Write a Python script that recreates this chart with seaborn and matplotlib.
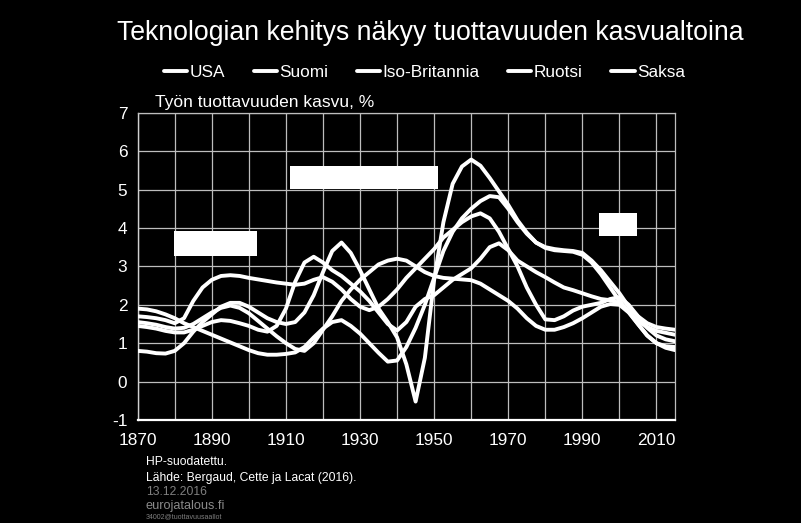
import numpy as np
import pandas as pd
import matplotlib
matplotlib.use("Agg")
import matplotlib.pyplot as plt
import seaborn as sns
from matplotlib.patches import Rectangle
from matplotlib.lines import Line2D

# ---------------- data ----------------
years = [1870, 1872.5, 1875, 1877.5, 1880, 1882.5, 1885, 1887.5, 1890, 1892.5,
         1895, 1897.5, 1900, 1902.5, 1905, 1907.5, 1910, 1912.5, 1915, 1917.5,
         1920, 1922.5, 1925, 1927.5, 1930, 1932.5, 1935, 1937.5, 1940, 1942.5,
         1945, 1947.5, 1950, 1952.5, 1955, 1957.5, 1960, 1962.5, 1965, 1967.5,
         1970, 1972.5, 1975, 1977.5, 1980, 1982.5, 1985, 1987.5, 1990, 1992.5,
         1995, 1997.5, 2000, 2002.5, 2005, 2007.5, 2010, 2012.5, 2015]

usa = [1.55, 1.52, 1.48, 1.42, 1.38, 1.40, 1.50, 1.65, 1.80, 1.92,
       1.98, 1.92, 1.78, 1.58, 1.38, 1.18, 1.00, 0.85, 0.80, 1.00,
       1.35, 1.70, 2.10, 2.40, 2.65, 2.85, 3.05, 3.15, 3.20, 3.15,
       3.00, 2.85, 2.75, 2.70, 2.68, 2.66, 2.64, 2.55, 2.40, 2.25,
       2.10, 1.90, 1.65, 1.45, 1.35, 1.35, 1.42, 1.52, 1.65, 1.80,
       1.95, 2.02, 2.00, 1.80, 1.50, 1.20, 1.00, 0.88, 0.82]

suomi = [1.90, 1.88, 1.83, 1.75, 1.65, 1.52, 1.42, 1.32, 1.22, 1.12,
         1.02, 0.92, 0.82, 0.74, 0.70, 0.70, 0.72, 0.76, 0.90, 1.15,
         1.38, 1.55, 1.60, 1.45, 1.25, 1.00, 0.75, 0.52, 0.55, 0.90,
         1.40, 2.00, 2.70, 3.40, 3.90, 4.25, 4.50, 4.70, 4.83, 4.80,
         4.50, 4.15, 3.85, 3.62, 3.50, 3.45, 3.42, 3.40, 3.35, 3.15,
         2.90, 2.60, 2.30, 1.95, 1.70, 1.52, 1.42, 1.38, 1.35]

iso_britannia = [1.45, 1.42, 1.38, 1.32, 1.28, 1.28, 1.35, 1.45, 1.55, 1.60,
                 1.58, 1.52, 1.45, 1.35, 1.30, 1.45, 1.90, 2.60, 3.10, 3.25,
                 3.10, 2.90, 2.75, 2.55, 2.35, 2.10, 1.80, 1.50, 1.33, 1.55,
                 1.95, 2.15, 2.25, 2.45, 2.65, 2.80, 2.95, 3.20, 3.50, 3.60,
                 3.42, 3.15, 3.00, 2.85, 2.72, 2.58, 2.45, 2.38, 2.30, 2.22,
                 2.15, 2.12, 2.05, 1.82, 1.50, 1.20, 1.00, 0.92, 0.90]

ruotsi = [1.70, 1.68, 1.65, 1.60, 1.52, 1.65, 2.10, 2.45, 2.65, 2.75,
          2.77, 2.75, 2.70, 2.66, 2.62, 2.58, 2.55, 2.52, 2.55, 2.65,
          2.72, 2.60, 2.40, 2.15, 1.95, 1.86, 1.95, 2.15, 2.40, 2.70,
          2.95, 3.20, 3.45, 3.75, 3.95, 4.15, 4.30, 4.38, 4.25, 3.90,
          3.45, 3.00, 2.45, 2.00, 1.62, 1.60, 1.70, 1.85, 1.95, 2.00,
          2.05, 2.15, 2.20, 2.00, 1.70, 1.40, 1.20, 1.10, 1.05]

saksa = [0.80, 0.78, 0.74, 0.73, 0.80, 1.00, 1.30, 1.55, 1.75, 1.95,
         2.05, 2.05, 1.95, 1.80, 1.65, 1.55, 1.50, 1.55, 1.80, 2.25,
         2.85, 3.40, 3.62, 3.35, 2.90, 2.40, 1.90, 1.55, 1.15, 0.45,
         -0.52, 0.62, 2.65, 4.15, 5.15, 5.60, 5.78, 5.62, 5.30, 4.95,
         4.60, 4.20, 3.88, 3.62, 3.48, 3.42, 3.40, 3.38, 3.30, 3.10,
         2.80, 2.45, 2.10, 1.82, 1.58, 1.42, 1.32, 1.27, 1.22]

countries = ["USA", "Suomi", "Iso-Britannia", "Ruotsi", "Saksa"]
series = [usa, suomi, iso_britannia, ruotsi, saksa]

# white boxes (start year, end year, low, high)
box_start = [1879.8, 1911.0, 1994.6]
box_end = [1902.2, 1951.1, 2004.7]
box_low = [3.28, 5.01, 3.79]
box_high = [3.93, 5.62, 4.40]

x_ticks = [1870, 1880, 1890, 1900, 1910, 1920, 1930, 1940, 1950, 1960,
           1970, 1980, 1990, 2000, 2010]
x_labels = ["1870", "", "1890", "", "1910", "", "1930", "", "1950", "",
            "1970", "", "1990", "", "2010"]
y_ticks = [-1, 0, 1, 2, 3, 4, 5, 6, 7]

title = "Teknologian kehitys näkyy tuottavuuden kasvualtoina"
y_title = "Työn tuottavuuden kasvu, %"
notes = ["HP-suodatettu.", "Lähde: Bergaud, Cette ja Lacat (2016)."]
date_note = "13.12.2016"
site_note = "eurojatalous.fi"
code_note = "34002@tuottavuusaallot"

# ---------------- figure ----------------
sns.set_theme(style="dark")
plt.rcParams["font.family"] = ["Liberation Sans", "DejaVu Sans"]

df = pd.DataFrame({
    "year": np.tile(years, len(countries)),
    "value": np.concatenate(series),
    "country": np.repeat(countries, len(years)),
})

fig = plt.figure(figsize=(8.01, 5.23), dpi=100, facecolor="black")
ax = fig.add_axes([0.1719, 0.1969, 0.6708, 0.5876])
ax.set_facecolor("black")

sns.lineplot(data=df, x="year", y="value", hue="country", hue_order=countries,
             palette=["white"] * len(countries), linewidth=2.8, legend=False,
             sort=False, estimator=None, ax=ax)
for ln in ax.lines:
    ln.set_solid_joinstyle("round")
    ln.set_solid_capstyle("round")
    ln.set_zorder(4)

for x0, x1, y0, y1 in zip(box_start, box_end, box_low, box_high):
    ax.add_patch(Rectangle((x0, y0), x1 - x0, y1 - y0, facecolor="white",
                           edgecolor="none", zorder=5))

ax.set_xlim(1870, 2015)
ax.set_ylim(-1, 7)
ax.set_xticks(x_ticks)
ax.set_xticklabels(x_labels)
ax.set_yticks(y_ticks)
ax.set_yticklabels([str(v) for v in y_ticks])
ax.set_xlabel("")
ax.set_ylabel("")
ax.grid(True, color="#bdbdbd", linewidth=0.9)
ax.tick_params(axis="both", colors="white", labelsize=12.4, length=0)
ax.tick_params(axis="x", pad=9)
ax.tick_params(axis="y", pad=7.5)
for side in ["top", "right"]:
    ax.spines[side].set_color("#bdbdbd")
    ax.spines[side].set_linewidth(0.9)
ax.spines["left"].set_color("#d0d0d0")
ax.spines["left"].set_linewidth(1.0)
ax.spines["bottom"].set_color("white")
ax.spines["bottom"].set_linewidth(1.6)

handles = [Line2D([0], [0], color="white", linewidth=2.8) for _ in countries]
leg = fig.legend(handles, countries, loc="center", bbox_to_anchor=(0.53, 0.862),
                 ncol=5, frameon=False, fontsize=12.4, handlelength=1.35,
                 handletextpad=0.15, columnspacing=1.65, labelcolor="white")

fig.text(0.537, 0.937, title, ha="center", va="center", color="white",
         fontsize=19.2)
fig.text(0.1935, 0.8036, y_title, ha="left", va="center", color="white",
         fontsize=12.5)

fig.text(0.182, 1 - 462 / 523, notes[0], ha="left", va="center", color="white",
         fontsize=8.7)
fig.text(0.182, 1 - 478 / 523, notes[1], ha="left", va="center", color="white",
         fontsize=8.7)
fig.text(0.182, 1 - 492 / 523, date_note, ha="left", va="center",
         color="#7f7f7f", fontsize=8.7)
fig.text(0.182, 1 - 506 / 523, site_note, ha="left", va="center",
         color="#8a8a8a", fontsize=9.2)
fig.text(0.182, 1 - 517 / 523, code_note, ha="left", va="center",
         color="#7f7f7f", fontsize=5)

fig.savefig("out.png", dpi=100, facecolor="black")
